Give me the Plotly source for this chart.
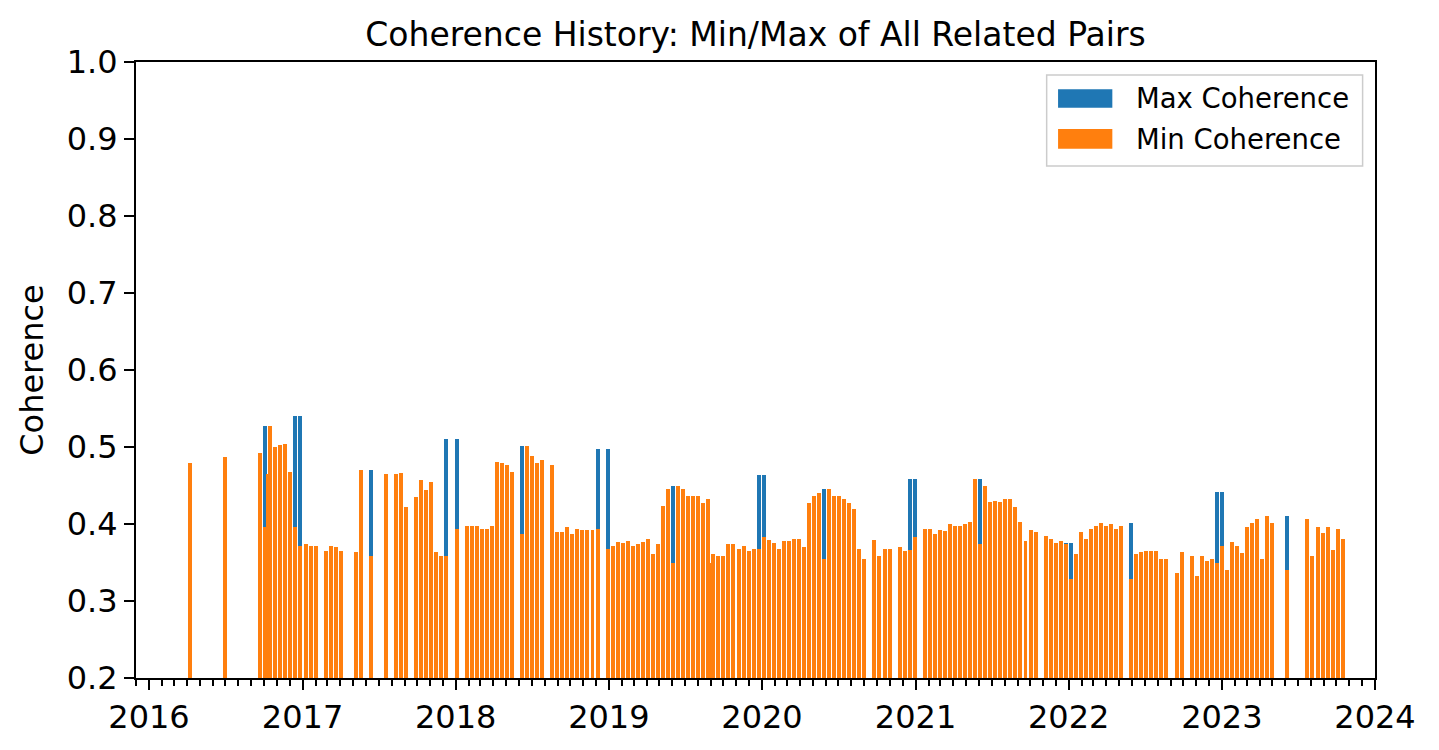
import plotly.graph_objects as go

dates = [
    "2016-04-08", "2016-06-30", "2016-09-21", "2016-10-04", "2016-10-10", "2016-10-16", "2016-10-28",
    "2016-11-09", "2016-11-21", "2016-12-03", "2016-12-15", "2016-12-27",
    "2017-01-08", "2017-01-20", "2017-02-01", "2017-02-25", "2017-03-09", "2017-03-21", "2017-04-02",
    "2017-05-08", "2017-05-20", "2017-06-13", "2017-07-19", "2017-08-12", "2017-08-24", "2017-09-05",
    "2017-09-29", "2017-10-11", "2017-10-23", "2017-11-04", "2017-11-16", "2017-11-28", "2017-12-10",
    "2018-01-03", "2018-01-27", "2018-02-08", "2018-02-20", "2018-03-04", "2018-03-16", "2018-03-28",
    "2018-04-09", "2018-04-21", "2018-05-03", "2018-05-15", "2018-06-08", "2018-06-20", "2018-07-02",
    "2018-07-14", "2018-07-26", "2018-08-19", "2018-08-31", "2018-09-12", "2018-09-24", "2018-10-06",
    "2018-10-18", "2018-10-30", "2018-11-11", "2018-11-23", "2018-12-05", "2018-12-29",
    "2019-01-10", "2019-01-22", "2019-02-03", "2019-02-15", "2019-02-27", "2019-03-11", "2019-03-23",
    "2019-04-04", "2019-04-16", "2019-04-28", "2019-05-10", "2019-05-22", "2019-06-03", "2019-06-15",
    "2019-06-27", "2019-07-09", "2019-07-21", "2019-08-02", "2019-08-14", "2019-08-26", "2019-09-01",
    "2019-09-07", "2019-09-19", "2019-10-01", "2019-10-13", "2019-10-25", "2019-11-06", "2019-11-18",
    "2019-11-30", "2019-12-12", "2019-12-24",
    "2020-01-05", "2020-01-17", "2020-01-29", "2020-02-10", "2020-02-22", "2020-03-05", "2020-03-17",
    "2020-03-29", "2020-04-10", "2020-04-22", "2020-05-04", "2020-05-16", "2020-05-28", "2020-06-09",
    "2020-06-21", "2020-07-03", "2020-07-15", "2020-07-27", "2020-08-08", "2020-08-20", "2020-09-01",
    "2020-09-25", "2020-10-07", "2020-10-19", "2020-10-31", "2020-11-24", "2020-12-06", "2020-12-18",
    "2020-12-30",
    "2021-01-23", "2021-02-04", "2021-02-16", "2021-02-28", "2021-03-12", "2021-03-24", "2021-04-05",
    "2021-04-17", "2021-04-29", "2021-05-11", "2021-05-23", "2021-06-04", "2021-06-16", "2021-06-28",
    "2021-07-10", "2021-07-22", "2021-08-03", "2021-08-15", "2021-08-27", "2021-09-08", "2021-09-20",
    "2021-10-02", "2021-10-14", "2021-11-07", "2021-11-19", "2021-12-01", "2021-12-13", "2021-12-25",
    "2022-01-06", "2022-01-18", "2022-01-30", "2022-02-11", "2022-02-23", "2022-03-07", "2022-03-19",
    "2022-03-31", "2022-04-12", "2022-04-24", "2022-05-06", "2022-05-30", "2022-06-11", "2022-06-23",
    "2022-07-05", "2022-07-17", "2022-07-29", "2022-08-10", "2022-08-22", "2022-09-15", "2022-09-27",
    "2022-10-21", "2022-11-02", "2022-11-14", "2022-11-26", "2022-12-08", "2022-12-20",
    "2023-01-01", "2023-01-13", "2023-01-25", "2023-02-06", "2023-02-18", "2023-03-02", "2023-03-14",
    "2023-03-26", "2023-04-07", "2023-04-19", "2023-05-01", "2023-06-06", "2023-07-24", "2023-08-05",
    "2023-08-17", "2023-08-29", "2023-09-10", "2023-09-22", "2023-10-04", "2023-10-16",
]

max_coherence = [
    0.479, 0.487, 0.492, 0.527, 0.465, 0.527, 0.500,
    0.502, 0.504, 0.467, 0.540, 0.540,
    0.374, 0.371, 0.371, 0.365, 0.372, 0.370, 0.365,
    0.363, 0.470, 0.470, 0.465, 0.465, 0.466, 0.422,
    0.435, 0.457, 0.444, 0.455, 0.363, 0.358, 0.511,
    0.511, 0.397, 0.398, 0.397, 0.393, 0.393, 0.397,
    0.480, 0.479, 0.476, 0.467, 0.501, 0.501, 0.488,
    0.479, 0.483, 0.476, 0.389, 0.389, 0.396, 0.387,
    0.393, 0.392, 0.392, 0.392, 0.497, 0.497,
    0.371, 0.376, 0.375, 0.378, 0.372, 0.374, 0.376,
    0.381, 0.361, 0.374, 0.423, 0.446, 0.449, 0.449,
    0.445, 0.437, 0.436, 0.437, 0.427, 0.433, 0.349,
    0.361, 0.359, 0.358, 0.374, 0.374, 0.368, 0.371,
    0.365, 0.367, 0.463,
    0.463, 0.379, 0.375, 0.368, 0.378, 0.378, 0.381,
    0.380, 0.370, 0.427, 0.436, 0.440, 0.446, 0.446,
    0.437, 0.436, 0.432, 0.427, 0.420, 0.367, 0.355,
    0.379, 0.359, 0.367, 0.368, 0.370, 0.365, 0.459,
    0.459,
    0.393, 0.393, 0.387, 0.392, 0.391, 0.400, 0.398,
    0.398, 0.400, 0.402, 0.459, 0.459, 0.450, 0.428,
    0.430, 0.428, 0.432, 0.432, 0.422, 0.402, 0.378,
    0.392, 0.389, 0.384, 0.380, 0.375, 0.378, 0.375,
    0.375, 0.361, 0.389, 0.381, 0.393, 0.397, 0.401,
    0.398, 0.400, 0.394, 0.398, 0.401, 0.361, 0.363,
    0.365, 0.365, 0.365, 0.354, 0.355, 0.337, 0.363,
    0.358, 0.333, 0.358, 0.352, 0.355, 0.441,
    0.441, 0.340, 0.376, 0.372, 0.362, 0.396, 0.401,
    0.406, 0.355, 0.411, 0.401, 0.411, 0.407, 0.359,
    0.396, 0.388, 0.396, 0.366, 0.393, 0.381,
]

min_coherence = [
    0.479, 0.487, 0.492, 0.396, 0.465, 0.527, 0.500,
    0.502, 0.504, 0.467, 0.396, 0.372,
    0.374, 0.371, 0.371, 0.365, 0.372, 0.370, 0.365,
    0.363, 0.470, 0.358, 0.465, 0.465, 0.466, 0.422,
    0.435, 0.457, 0.444, 0.455, 0.363, 0.358, 0.359,
    0.394, 0.397, 0.398, 0.397, 0.393, 0.393, 0.397,
    0.480, 0.479, 0.476, 0.467, 0.387, 0.501, 0.488,
    0.479, 0.483, 0.476, 0.389, 0.389, 0.396, 0.387,
    0.393, 0.392, 0.392, 0.392, 0.393, 0.367,
    0.371, 0.376, 0.375, 0.378, 0.372, 0.374, 0.376,
    0.381, 0.361, 0.374, 0.423, 0.446, 0.349, 0.449,
    0.445, 0.437, 0.436, 0.437, 0.427, 0.433, 0.349,
    0.361, 0.359, 0.358, 0.374, 0.374, 0.368, 0.371,
    0.365, 0.367, 0.368,
    0.383, 0.379, 0.375, 0.368, 0.378, 0.378, 0.381,
    0.380, 0.370, 0.427, 0.436, 0.440, 0.355, 0.446,
    0.437, 0.436, 0.432, 0.427, 0.420, 0.367, 0.355,
    0.379, 0.359, 0.367, 0.368, 0.370, 0.365, 0.366,
    0.383,
    0.393, 0.393, 0.387, 0.392, 0.391, 0.400, 0.398,
    0.398, 0.400, 0.402, 0.459, 0.374, 0.450, 0.428,
    0.430, 0.428, 0.432, 0.432, 0.422, 0.402, 0.378,
    0.392, 0.389, 0.384, 0.380, 0.375, 0.378, 0.374,
    0.328, 0.361, 0.389, 0.381, 0.393, 0.397, 0.401,
    0.398, 0.400, 0.394, 0.398, 0.328, 0.361, 0.363,
    0.365, 0.365, 0.365, 0.354, 0.355, 0.337, 0.363,
    0.358, 0.333, 0.358, 0.352, 0.355, 0.350,
    0.372, 0.340, 0.376, 0.372, 0.362, 0.396, 0.401,
    0.406, 0.355, 0.411, 0.401, 0.340, 0.407, 0.359,
    0.396, 0.388, 0.396, 0.366, 0.393, 0.381,
]

series_names = ["Max Coherence", "Min Coherence"]
series_colors = ["#1f77b4", "#ff7f0e"]
year_ticks = ["2016", "2017", "2018", "2019", "2020", "2021", "2022", "2023", "2024"]
y_ticks = [0.2, 0.3, 0.4, 0.5, 0.6, 0.7, 0.8, 0.9, 1.0]

BAR_WIDTH_MS = 9.5 * 24 * 3600 * 1000
FONT = "DejaVu Sans"

fig = go.Figure()
fig.add_trace(go.Bar(x=dates, y=max_coherence, name=series_names[0],
                     marker=dict(color=series_colors[0], line=dict(width=0)),
                     width=BAR_WIDTH_MS, showlegend=False))
fig.add_trace(go.Bar(x=dates, y=min_coherence, name=series_names[1],
                     marker=dict(color=series_colors[1], line=dict(width=0)),
                     width=BAR_WIDTH_MS, showlegend=False))

# Legend drawn in matplotlib style (paper coordinates)
shapes = [
    dict(type="rect", xref="paper", yref="paper", x0=0.7350, x1=0.9900, y0=0.8312, y1=0.9789,
         line=dict(color="#cccccc", width=1.5), fillcolor="rgba(255,255,255,0.8)", layer="above"),
    dict(type="rect", xref="paper", yref="paper", x0=0.7442, x1=0.7880, y0=0.9258, y1=0.9557,
         line=dict(width=0), fillcolor=series_colors[0], layer="above"),
    dict(type="rect", xref="paper", yref="paper", x0=0.7442, x1=0.7880, y0=0.8593, y1=0.8912,
         line=dict(width=0), fillcolor=series_colors[1], layer="above"),
]
annotations = [
    dict(text=series_names[0], xref="paper", yref="paper", x=0.8053, y=0.9408,
         xanchor="left", yanchor="middle", showarrow=False, font=dict(family=FONT, size=27.5, color="black")),
    dict(text=series_names[1], xref="paper", yref="paper", x=0.8053, y=0.8753,
         xanchor="left", yanchor="middle", showarrow=False, font=dict(family=FONT, size=27.5, color="black")),
]

fig.update_layout(
    width=1439, height=750, autosize=False,
    margin=dict(l=136, r=64, t=62, b=72),
    paper_bgcolor="white", plot_bgcolor="white",
    barmode="overlay", bargap=0,
    font=dict(family=FONT, size=32, color="black"),
    title=dict(text="Coherence History: Min/Max of All Related Pairs",
               x=0.5, xref="paper", xanchor="center",
               y=1 - 34 / 750, yref="container", yanchor="middle",
               font=dict(family=FONT, size=33, color="black")),
    shapes=shapes, annotations=annotations,
    showlegend=False,
)

fig.update_xaxes(
    type="date", range=["2015-12-01", "2024-01-01"],
    tickmode="array", tickvals=[y + "-01-01" for y in year_ticks], ticktext=year_ticks,
    ticks="outside", ticklen=10, tickwidth=2, tickcolor="black",
    showline=True, mirror=True, linecolor="black", linewidth=2,
    showgrid=False, zeroline=False,
    tickfont=dict(family=FONT, size=32, color="black"),
    minor=dict(dtick="M1", tick0="2016-01-01", ticks="outside", ticklen=6, tickwidth=1.5,
               tickcolor="black", showgrid=False),
)
fig.update_yaxes(
    range=[0.2, 1.0], tickmode="array", tickvals=y_ticks, ticktext=[f"{v:.1f}" for v in y_ticks],
    ticks="outside", ticklen=10, tickwidth=2, tickcolor="black",
    showline=True, mirror=True, linecolor="black", linewidth=2,
    showgrid=False, zeroline=False,
    tickfont=dict(family=FONT, size=32, color="black"),
    title=dict(text="Coherence", font=dict(family=FONT, size=32, color="black"), standoff=14),
)

fig.write_html("out.html", config={"displayModeBar": False},
               post_script="document.body.style.margin='0';")
